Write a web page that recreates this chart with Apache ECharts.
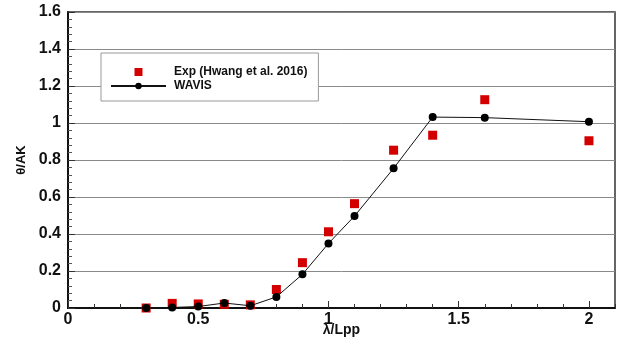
<!DOCTYPE html>
<html>
<head>
<meta charset="utf-8">
<script src="https://cdn.jsdelivr.net/npm/echarts@6/dist/echarts.min.js"></script>
<style>
  html, body { margin: 0; padding: 0; background: #fff; }
  #chart { width: 621px; height: 340px; }
</style>
</head>
<body>
<div id="chart"></div>
<script>
// Wave length ratio and roll response (theta / AK)
const lambdaLpp = [0.3, 0.4, 0.5, 0.6, 0.7, 0.8, 0.9, 1.0, 1.1, 1.25, 1.4, 1.6, 2.0];
const expValues = [0.0, 0.025, 0.022, 0.02, 0.017, 0.10, 0.245, 0.412, 0.564, 0.853, 0.934, 1.126, 0.904];
const wavisValues = [0.0, 0.003, 0.008, 0.027, 0.012, 0.06, 0.182, 0.349, 0.497, 0.755, 1.032, 1.029, 1.007];
const seriesNames = ['Exp (Hwang et al. 2016)', 'WAVIS'];

const pairs = (xs, ys) => xs.map((x, i) => [x, ys[i]]);
const font = 'Arial, "Liberation Sans", sans-serif';

const chart = echarts.init(document.getElementById('chart'));
chart.setOption({
  animation: false,
  backgroundColor: '#ffffff',
  grid: {
    left: 68, right: 6, top: 12, bottom: 32,
    outerBoundsMode: 'none', containLabel: false,
    show: true, borderColor: '#333', borderWidth: 1.5, backgroundColor: 'transparent'
  },
  legend: {
    orient: 'vertical',
    left: 101, top: 53,
    padding: [12, 11, 8, 9],
    borderColor: '#999', borderWidth: 1, backgroundColor: '#fff',
    itemWidth: 55, itemHeight: 8, itemGap: 0,
    textStyle: { fontFamily: font, fontWeight: 'bold', fontSize: 12, color: '#111', lineHeight: 14, padding: [0, 0, 0, 3] },
    data: [
      { name: seriesNames[0], icon: 'path://M0 0h10v10H0z' },
      { name: seriesNames[1] }
    ]
  },
  xAxis: [
    {
      // minor ticks every 0.1
      type: 'value', min: 0, max: 2.1, interval: 0.1,
      axisLine: { show: true, onZero: false, lineStyle: { color: '#111', width: 2 } },
      axisTick: { show: true, inside: true, length: 4, lineStyle: { color: '#333', width: 1 } },
      axisLabel: { show: false },
      splitLine: { show: false }
    },
    {
      // labelled major ticks every 0.5
      type: 'value', min: 0, max: 2.1, interval: 0.5, position: 'bottom',
      name: 'λ/Lpp', nameLocation: 'middle', nameGap: 15, nameMoveOverlap: false,
      nameTextStyle: { fontFamily: font, fontWeight: 'bold', fontSize: 14, color: '#111' },
      axisLine: { show: false, onZero: false },
      axisTick: { show: true, inside: true, length: 7, lineStyle: { color: '#333', width: 1 } },
      axisLabel: { show: true, margin: 4, showMaxLabel: false, fontFamily: font, fontWeight: 'bold', fontSize: 16, color: '#111' },
      splitLine: { show: false }
    }
  ],
  yAxis: {
    type: 'value', min: 0, max: 1.6, interval: 0.2,
    name: 'θ/AK', nameLocation: 'middle', nameGap: 40, nameRotate: 90, nameMoveOverlap: false,
    nameTextStyle: { fontFamily: font, fontWeight: 'bold', fontSize: 13, color: '#111' },
    axisLine: { show: true, onZero: false, lineStyle: { color: '#111', width: 2 } },
    axisTick: { show: true, inside: true, length: 7, lineStyle: { color: '#333', width: 1 } },
    minorTick: { show: true, splitNumber: 5, length: 4, lineStyle: { color: '#555', width: 1 } },
    axisLabel: { margin: 7, fontFamily: font, fontWeight: 'bold', fontSize: 16, color: '#111' },
    splitLine: { show: true, lineStyle: { color: '#8a8a8a', width: 1 } }
  },
  series: [
    {
      name: seriesNames[0], type: 'scatter', xAxisIndex: 0,
      symbol: 'rect', symbolSize: 9,
      itemStyle: { color: '#d40000', opacity: 1 },
      data: pairs(lambdaLpp, expValues), z: 2
    },
    {
      name: seriesNames[1], type: 'line', xAxisIndex: 0,
      symbol: 'circle', symbolSize: 8, showAllSymbol: true,
      lineStyle: { color: '#111', width: 1 },
      itemStyle: { color: '#000' },
      data: pairs(lambdaLpp, wavisValues), z: 3
    }
  ]
});
</script>
</body>
</html>
